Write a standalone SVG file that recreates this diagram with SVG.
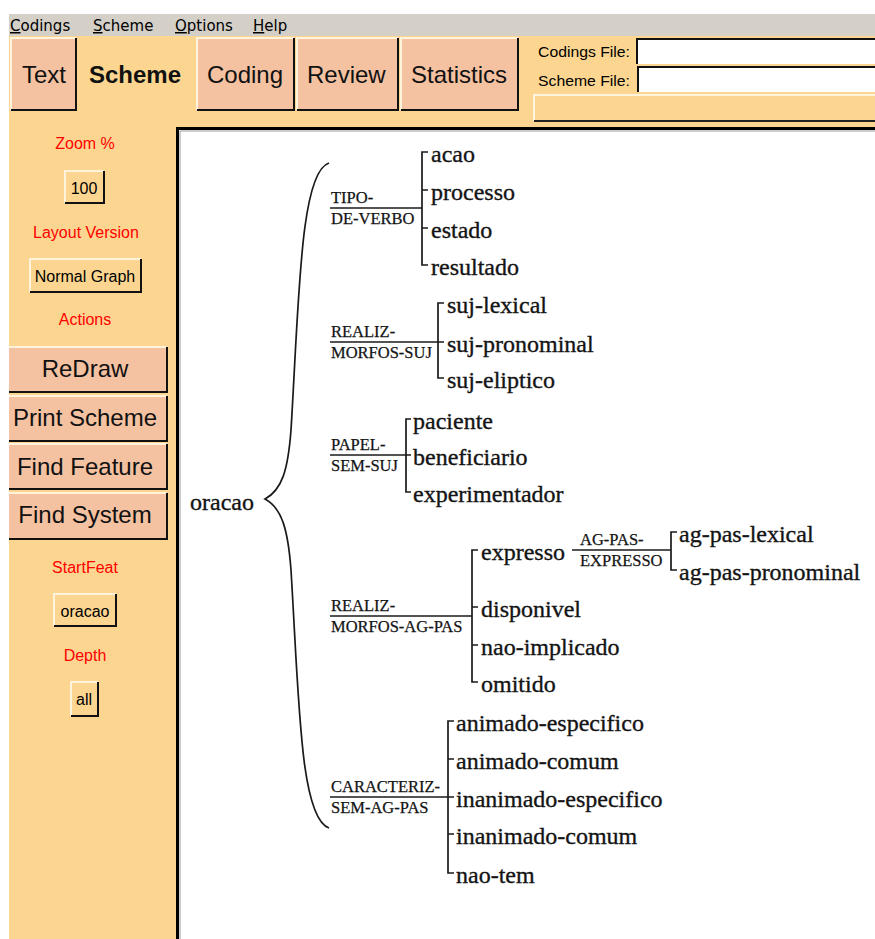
<svg xmlns="http://www.w3.org/2000/svg" width="875" height="939" viewBox="0 0 875 939">
<style>
.ui{font-family:"Liberation Sans",Arial,sans-serif;fill:#000}
.menu{font-family:"DejaVu Sans","Liberation Sans",sans-serif;font-size:15px;fill:#000}
.tab{font-family:"Liberation Sans",Arial,sans-serif;font-size:24px;fill:#111}
.red{font-family:"Liberation Sans",Arial,sans-serif;font-size:16px;fill:#ff0000;text-anchor:middle}
.sb{font-family:"Liberation Sans",Arial,sans-serif;font-size:16px;fill:#000;text-anchor:middle}
.bb{font-family:"Liberation Sans",Arial,sans-serif;font-size:24px;fill:#111;text-anchor:middle}
.lbl{font-family:"Liberation Sans",Arial,sans-serif;font-size:15px;fill:#000}
.btn{fill:#f5c2a1}
.hi{fill:none;stroke:#fff3dc;stroke-width:2}
.lo{fill:none;stroke:#111;stroke-width:2}
.sbtn{fill:#fcd690}
.leaf{font-family:"Liberation Serif","Times New Roman",serif;font-size:24px;fill:#141414;stroke:#141414;stroke-width:0.35}
.sys{font-family:"Liberation Serif","Times New Roman",serif;font-size:16.5px;fill:#141414;stroke:#141414;stroke-width:0.25}
.con{fill:none;stroke:#1a1a1a;stroke-width:1.7}
</style>
<rect x="0" y="0" width="875" height="939" fill="#ffffff"/>
<rect x="9" y="36" width="866" height="903" fill="#fcd690"/>
<g id="menubar">
<rect x="9" y="14" width="866" height="22" fill="#d4d0c8"/>
<text class="menu" x="10" y="31"><tspan text-decoration="underline">C</tspan>odings</text>
<text class="menu" x="93" y="31"><tspan text-decoration="underline">S</tspan>cheme</text>
<text class="menu" x="175" y="31"><tspan text-decoration="underline">O</tspan>ptions</text>
<text class="menu" x="253" y="31"><tspan text-decoration="underline">H</tspan>elp</text>
</g>
<g id="tabs">
<rect class="btn" x="10" y="37" width="67" height="74"/>
<path class="hi" d="M11,110 V38 H76"/><path class="lo" d="M11,110 H76 V38"/>
<text class="tab" x="22" y="83">Text</text>
<text class="tab" x="89" y="83" font-weight="bold" fill="#000">Scheme</text>
<rect class="btn" x="196" y="37" width="99" height="74"/>
<path class="hi" d="M197,110 V38 H294"/><path class="lo" d="M197,110 H294 V38"/>
<text class="tab" x="207" y="83">Coding</text>
<rect class="btn" x="296" y="37" width="103" height="74"/>
<path class="hi" d="M297,110 V38 H398"/><path class="lo" d="M297,110 H398 V38"/>
<text class="tab" x="307" y="83">Review</text>
<rect class="btn" x="400" y="37" width="119" height="74"/>
<path class="hi" d="M401,110 V38 H518"/><path class="lo" d="M401,110 H518 V38"/>
<text class="tab" x="411" y="83">Statistics</text>
</g>
<g id="files">
<text class="lbl" x="538" y="57" textLength="92" lengthAdjust="spacingAndGlyphs">Codings File:</text>
<text class="lbl" x="538" y="86" textLength="92" lengthAdjust="spacingAndGlyphs">Scheme File:</text>
<rect x="636" y="38" width="239" height="26" fill="#ffffff"/>
<path d="M637,64 V39 H875" fill="none" stroke="#111" stroke-width="2"/>
<rect x="637" y="66" width="238" height="26" fill="#ffffff"/>
<path d="M638,92 V67 H875" fill="none" stroke="#111" stroke-width="2"/>
<rect x="533" y="94" width="342" height="28" fill="#fcd690"/>
<path d="M534,121 V95 H875" fill="none" stroke="#fff3dc" stroke-width="2"/>
<path d="M534,121 H875" fill="none" stroke="#222" stroke-width="2"/>
</g>
<g id="leftpanel">
<text class="red" x="85" y="149">Zoom %</text>
<rect class="sbtn" x="64" y="170" width="41" height="34"/>
<path class="hi" d="M65,203 V171 H104"/><path class="lo" d="M65,203 H104 V171"/>
<text class="sb" x="84" y="194">100</text>
<text class="red" x="86" y="238">Layout Version</text>
<rect class="sbtn" x="29" y="258" width="113" height="35"/>
<path class="hi" d="M30,292 V259 H141"/><path class="lo" d="M30,292 H141 V259"/>
<text class="sb" x="85" y="282">Normal Graph</text>
<text class="red" x="85" y="325">Actions</text>
<rect class="btn" x="9" y="346" width="159" height="47"/>
<path class="hi" d="M9,347 H167"/><path class="lo" d="M9,392 H167 V347"/>
<text class="bb" x="85" y="377">ReDraw</text>
<rect class="btn" x="9" y="395" width="159" height="47"/>
<path class="hi" d="M9,396 H167"/><path class="lo" d="M9,441 H167 V396"/>
<text class="bb" x="85" y="426">Print Scheme</text>
<rect class="btn" x="9" y="443" width="159" height="47"/>
<path class="hi" d="M9,444 H167"/><path class="lo" d="M9,489 H167 V444"/>
<text class="bb" x="85" y="475">Find Feature</text>
<rect class="btn" x="9" y="492" width="159" height="48"/>
<path class="hi" d="M9,493 H167"/><path class="lo" d="M9,539 H167 V493"/>
<text class="bb" x="85" y="523">Find System</text>
<text class="red" x="85" y="573">StartFeat</text>
<rect class="sbtn" x="53" y="593" width="64" height="34"/>
<path class="hi" d="M54,626 V594 H116"/><path class="lo" d="M54,626 H116 V594"/>
<text class="sb" x="85" y="617">oracao</text>
<text class="red" x="85" y="661">Depth</text>
<rect class="sbtn" x="70" y="681" width="29" height="36"/>
<path class="hi" d="M71,716 V682 H98"/><path class="lo" d="M71,716 H98 V682"/>
<text class="sb" x="84" y="705">all</text>
</g>
<g id="canvas">
<rect x="177.5" y="128.5" width="700" height="820" fill="#ffffff" stroke="#000" stroke-width="3"/>
<path d="M180,939 V131 H875" fill="none" stroke="#9a9a9a" stroke-width="1"/>
</g>
<g id="connectors">
<path class="con" stroke-width="1.4" d="M329,163 C300,172 299,300 291,430 C288,470 282,490 265,499 C282,508 288,530 291,570 C299,700 300,818 329,828"/>
<path class="con" d="M330,208 H422"/>
<path class="con" d="M428,152 H422 V265 H428 M422,190 H428 M422,228 H428"/>
<path class="con" d="M330,342 H444"/>
<path class="con" d="M444,303 H438 V378 H444"/>
<path class="con" d="M330,455 H411"/>
<path class="con" d="M411,419 H406 V492 H411"/>
<path class="con" d="M330,616 H472"/>
<path class="con" d="M478,550 H472 V682 H478 M472,607 H478 M472,645 H478"/>
<path class="con" d="M572,550 H671"/>
<path class="con" d="M677,532 H671 V570 H677"/>
<path class="con" d="M330,797 H454"/>
<path class="con" d="M454,721 H448 V873 H454 M448,759 H454 M448,834 H454"/>
</g>
<g id="node-oracao"><text class="leaf" x="190" y="510">oracao</text></g>
<g id="sys-tipo-de-verbo"><text class="sys" x="331" y="203">TIPO-</text><text class="sys" x="331" y="224">DE-VERBO</text></g>
<g id="leaf-acao"><text class="leaf" x="431" y="162">acao</text></g>
<g id="leaf-processo"><text class="leaf" x="431" y="200">processo</text></g>
<g id="leaf-estado"><text class="leaf" x="431" y="238">estado</text></g>
<g id="leaf-resultado"><text class="leaf" x="431" y="275">resultado</text></g>
<g id="sys-realiz-morfos-suj"><text class="sys" x="331" y="337">REALIZ-</text><text class="sys" x="331" y="358">MORFOS-SUJ</text></g>
<g id="leaf-suj-lexical"><text class="leaf" x="447" y="313">suj-lexical</text></g>
<g id="leaf-suj-pronominal"><text class="leaf" x="447" y="352">suj-pronominal</text></g>
<g id="leaf-suj-eliptico"><text class="leaf" x="447" y="388">suj-eliptico</text></g>
<g id="sys-papel-sem-suj"><text class="sys" x="331" y="450">PAPEL-</text><text class="sys" x="331" y="471">SEM-SUJ</text></g>
<g id="leaf-paciente"><text class="leaf" x="413" y="429">paciente</text></g>
<g id="leaf-beneficiario"><text class="leaf" x="413" y="465">beneficiario</text></g>
<g id="leaf-experimentador"><text class="leaf" x="413" y="502">experimentador</text></g>
<g id="sys-realiz-morfos-ag-pas"><text class="sys" x="331" y="611">REALIZ-</text><text class="sys" x="331" y="632">MORFOS-AG-PAS</text></g>
<g id="leaf-expresso"><text class="leaf" x="481" y="560">expresso</text></g>
<g id="leaf-disponivel"><text class="leaf" x="481" y="617">disponivel</text></g>
<g id="leaf-nao-implicado"><text class="leaf" x="481" y="655">nao-implicado</text></g>
<g id="leaf-omitido"><text class="leaf" x="481" y="692">omitido</text></g>
<g id="sys-ag-pas-expresso"><text class="sys" x="580" y="545">AG-PAS-</text><text class="sys" x="580" y="566">EXPRESSO</text></g>
<g id="leaf-ag-pas-lexical"><text class="leaf" x="679" y="542">ag-pas-lexical</text></g>
<g id="leaf-ag-pas-pronominal"><text class="leaf" x="679" y="580">ag-pas-pronominal</text></g>
<g id="sys-caracteriz-sem-ag-pas"><text class="sys" x="331" y="792">CARACTERIZ-</text><text class="sys" x="331" y="813">SEM-AG-PAS</text></g>
<g id="leaf-animado-especifico"><text class="leaf" x="456" y="731">animado-especifico</text></g>
<g id="leaf-animado-comum"><text class="leaf" x="456" y="769">animado-comum</text></g>
<g id="leaf-inanimado-especifico"><text class="leaf" x="456" y="807">inanimado-especifico</text></g>
<g id="leaf-inanimado-comum"><text class="leaf" x="456" y="844">inanimado-comum</text></g>
<g id="leaf-nao-tem"><text class="leaf" x="456" y="883">nao-tem</text></g>
</svg>
